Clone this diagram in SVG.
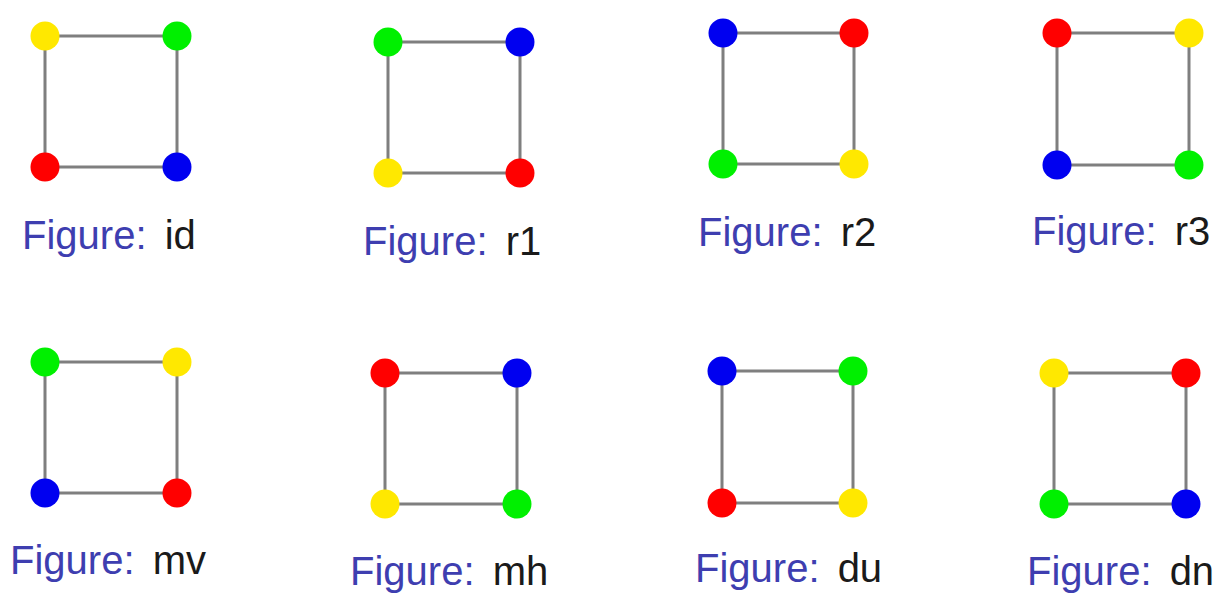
<svg xmlns="http://www.w3.org/2000/svg" width="1221" height="597" viewBox="0 0 1221 597">
<style>
.e{stroke:#7f7f7f;stroke-width:3;fill:none}
.r{fill:#ff0000}.g{fill:#00f000}.b{fill:#0000f0}.y{fill:#ffe800}
.lbl{font-family:"Liberation Sans",Arial,sans-serif;font-size:40px;fill:#1a1a1a}
.fig{fill:#3e3eb0}
</style>
<defs>
<circle id="c" r="14.5"/>
</defs>
<rect width="1221" height="597" fill="#ffffff"/>
<g id="connectors">
<rect class="e" x="45" y="36" width="132" height="131"/>
<rect class="e" x="388" y="42" width="132" height="131"/>
<rect class="e" x="723" y="33" width="131" height="131"/>
<rect class="e" x="1057" y="33" width="132" height="132"/>
<rect class="e" x="45" y="362" width="132" height="131"/>
<rect class="e" x="385" y="373" width="132" height="131"/>
<rect class="e" x="722" y="371" width="131" height="132"/>
<rect class="e" x="1054" y="373" width="132" height="131"/>
</g>
<g id="id">
<use href="#c" class="y" x="45" y="36"/><use href="#c" class="g" x="177" y="36"/>
<use href="#c" class="r" x="45" y="167"/><use href="#c" class="b" x="177" y="167"/>
<text class="lbl" x="22" y="249"><tspan class="fig">Figure:</tspan> <tspan dx="7">id</tspan></text>
</g>
<g id="r1">
<use href="#c" class="g" x="388" y="42"/><use href="#c" class="b" x="520" y="42"/>
<use href="#c" class="y" x="388" y="173"/><use href="#c" class="r" x="520" y="173"/>
<text class="lbl" x="363" y="255"><tspan class="fig">Figure:</tspan> <tspan dx="7">r1</tspan></text>
</g>
<g id="r2">
<use href="#c" class="b" x="723" y="33"/><use href="#c" class="r" x="854" y="33"/>
<use href="#c" class="g" x="723" y="164"/><use href="#c" class="y" x="854" y="164"/>
<text class="lbl" x="698" y="246"><tspan class="fig">Figure:</tspan> <tspan dx="7">r2</tspan></text>
</g>
<g id="r3">
<use href="#c" class="r" x="1057" y="33"/><use href="#c" class="y" x="1189" y="33"/>
<use href="#c" class="b" x="1057" y="165"/><use href="#c" class="g" x="1189" y="165"/>
<text class="lbl" x="1032" y="245"><tspan class="fig">Figure:</tspan> <tspan dx="7">r3</tspan></text>
</g>
<g id="mv">
<use href="#c" class="g" x="45" y="362"/><use href="#c" class="y" x="177" y="362"/>
<use href="#c" class="b" x="45" y="493"/><use href="#c" class="r" x="177" y="493"/>
<text class="lbl" x="10" y="574"><tspan class="fig">Figure:</tspan> <tspan dx="7">mv</tspan></text>
</g>
<g id="mh">
<use href="#c" class="r" x="385" y="373"/><use href="#c" class="b" x="517" y="373"/>
<use href="#c" class="y" x="385" y="504"/><use href="#c" class="g" x="517" y="504"/>
<text class="lbl" x="350" y="585"><tspan class="fig">Figure:</tspan> <tspan dx="7">mh</tspan></text>
</g>
<g id="du">
<use href="#c" class="b" x="722" y="371"/><use href="#c" class="g" x="853" y="371"/>
<use href="#c" class="r" x="722" y="503"/><use href="#c" class="y" x="853" y="503"/>
<text class="lbl" x="695" y="582"><tspan class="fig">Figure:</tspan> <tspan dx="7">du</tspan></text>
</g>
<g id="dn">
<use href="#c" class="y" x="1054" y="373"/><use href="#c" class="r" x="1186" y="373"/>
<use href="#c" class="g" x="1054" y="504"/><use href="#c" class="b" x="1186" y="504"/>
<text class="lbl" x="1027" y="585"><tspan class="fig">Figure:</tspan> <tspan dx="7">dn</tspan></text>
</g>
</svg>
